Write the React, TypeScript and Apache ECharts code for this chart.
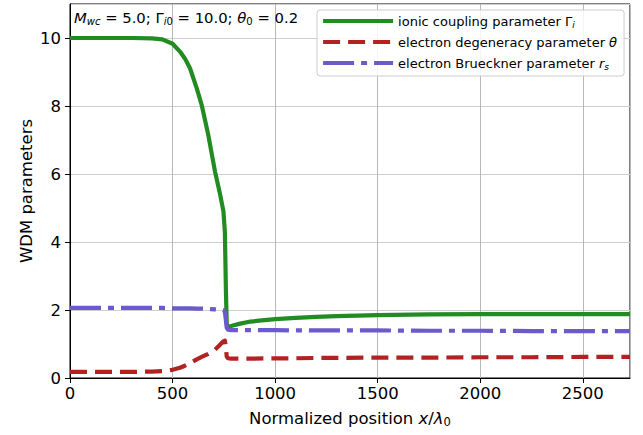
import React, { useEffect, useRef } from "react";
import * as echarts from "echarts";

const positions = [0, 100, 200, 300, 400, 450, 500, 536, 560, 585, 618, 642, 674, 707, 730, 748, 755, 760, 764, 770, 785, 830, 880, 1000, 1100, 1200, 1300, 1500, 1750, 2000, 2250, 2500, 2730];
const gammaI = [10, 10, 10, 10, 9.99, 9.96, 9.83, 9.6, 9.4, 9.11, 8.52, 8.03, 7.15, 6.07, 5.45, 4.9, 4.3, 2.6, 1.6, 1.51, 1.53, 1.6, 1.66, 1.73, 1.77, 1.8, 1.82, 1.85, 1.87, 1.88, 1.88, 1.88, 1.88];
const theta = [0.18, 0.18, 0.18, 0.18, 0.19, 0.2, 0.24, 0.3, 0.36, 0.44, 0.55, 0.62, 0.71, 0.83, 0.97, 1.08, 1.1, 0.9, 0.63, 0.58, 0.57, 0.57, 0.57, 0.58, 0.58, 0.59, 0.59, 0.6, 0.6, 0.61, 0.61, 0.62, 0.62];
const rs = [2.06, 2.06, 2.06, 2.06, 2.06, 2.06, 2.05, 2.05, 2.05, 2.05, 2.04, 2.04, 2.03, 2.02, 2.01, 1.99, 1.95, 1.7, 1.48, 1.42, 1.41, 1.41, 1.41, 1.41, 1.4, 1.4, 1.4, 1.4, 1.39, 1.39, 1.38, 1.38, 1.38];

const xRange = [0, 2730];
const yRange = [0, 11];
const xStep = 500;
const yStep = 2;

const annotation = "{it|M}{subi|wc} = 5.0; Γ{subi|i}{sub|0} = 10.0; {it|θ}{sub|0} = 0.2";
const legendLabels: Record<string, string> = {
  gamma: "ionic coupling parameter Γ{subi|i}",
  theta: "electron degeneracy parameter {it|θ}",
  rs: "electron Brueckner parameter {it|r}{subi|s}",
};

const FONT = "DejaVu Sans";

function richSet(size: number, subSize: number, lh: number) {
  return {
    it: { fontFamily: FONT, fontSize: size, fontStyle: "italic", color: "#000", lineHeight: lh },
    subi: { fontFamily: FONT, fontSize: subSize, fontStyle: "italic", color: "#000", verticalAlign: "bottom", lineHeight: Math.round(lh / 2) },
    sub: { fontFamily: FONT, fontSize: subSize, color: "#000", verticalAlign: "bottom", lineHeight: Math.round(lh / 2) },
  };
}

export default function App() {
  const ref = useRef<HTMLDivElement>(null);
  useEffect(() => {
    if (!ref.current) return;
    const chart = echarts.init(ref.current, undefined, { renderer: "svg" });
    const pairs = (ys: number[]) => positions.map((x, i) => [x, ys[i]]);
    chart.setOption({
      animation: false,
      backgroundColor: "#fff",
      textStyle: { fontFamily: FONT },
      grid: {
        left: 70,
        top: 4,
        width: 560,
        height: 374,
        show: true,
        borderColor: "#000",
        borderWidth: 1,
        backgroundColor: "transparent",
      },
      title: {
        text: annotation,
        left: 74,
        top: 8,
        padding: 0,
        textStyle: {
          fontFamily: FONT,
          fontSize: 14.8,
          fontWeight: "normal",
          color: "#000",
          lineHeight: 18,
          rich: richSet(14.8, 10, 18),
        },
      },
      legend: {
        orient: "vertical",
        left: 317,
        top: 10,
        padding: [3, 7, 5, 4],
        itemWidth: 70,
        itemHeight: 16,
        itemGap: 5,
        selectedMode: false,
        backgroundColor: "rgba(255,255,255,0.85)",
        borderColor: "#cccccc",
        borderWidth: 1,
        borderRadius: 3,
        data: ["gamma", "theta", "rs"],
        formatter: (name: string) => legendLabels[name],
        itemStyle: { opacity: 0, borderWidth: 0 },
        lineStyle: { width: 4.2 },
        textStyle: {
          fontFamily: FONT,
          fontSize: 13,
          color: "#000",
          lineHeight: 16,
          rich: richSet(13, 9, 16),
        },
      },
      xAxis: {
        type: "value",
        min: xRange[0],
        max: xRange[1],
        interval: xStep,
        name: "Normalized position {it|x}/{it|λ}{sub|0}",
        nameLocation: "middle",
        nameGap: 30,
        nameMoveOverlap: false,
        nameTextStyle: {
          fontFamily: FONT,
          fontSize: 16.5,
          color: "#000",
          lineHeight: 20,
          rich: richSet(16.5, 11.5, 20),
        },
        axisLine: { show: true, onZero: false, lineStyle: { color: "#000", width: 1 } },
        axisTick: { show: true, length: 5, inside: false, lineStyle: { color: "#000" } },
        axisLabel: {
          fontFamily: FONT,
          fontSize: 16.5,
          color: "#000",
          margin: 7,
          showMaxLabel: false,
          formatter: (v: number) => String(v),
        },
        splitLine: { show: true, lineStyle: { color: "#b8b8b8", width: 1 } },
      },
      yAxis: {
        type: "value",
        min: yRange[0],
        max: yRange[1],
        interval: yStep,
        name: "WDM parameters",
        nameLocation: "middle",
        nameGap: 35,
        nameMoveOverlap: false,
        nameTextStyle: { fontFamily: FONT, fontSize: 16.5, color: "#000" },
        axisLine: { show: true, onZero: false, lineStyle: { color: "#000", width: 1 } },
        axisTick: { show: true, length: 5, inside: false, lineStyle: { color: "#000" } },
        axisLabel: {
          fontFamily: FONT,
          fontSize: 16.5,
          color: "#000",
          margin: 9,
          showMaxLabel: false,
          formatter: (v: number) => String(v),
        },
        splitLine: { show: true, lineStyle: { color: "#cfcfcf", width: 1 } },
      },
      series: [
        {
          name: "gamma",
          type: "line",
          data: pairs(gammaI),
          showSymbol: false,
          symbol: "none",
          lineStyle: { color: "#228B22", width: 4.2, cap: "butt", join: "round" },
          itemStyle: { color: "#228B22" },
          z: 3,
        },
        {
          name: "theta",
          type: "line",
          data: pairs(theta),
          showSymbol: false,
          symbol: "none",
          lineStyle: { color: "#B22222", width: 4.2, type: [17, 8], cap: "butt", join: "round" },
          itemStyle: { color: "#B22222" },
          z: 4,
        },
        {
          name: "rs",
          type: "line",
          data: pairs(rs),
          showSymbol: false,
          symbol: "none",
          lineStyle: { color: "#6A5ACD", width: 4.2, type: [31, 7, 6, 7], cap: "butt", join: "round" },
          itemStyle: { color: "#6A5ACD" },
          z: 5,
        },
      ],
    });
    return () => chart.dispose();
  }, []);
  return <div ref={ref} style={{ position: "fixed", left: 0, top: 0, width: 643, height: 435 }} />;
}
